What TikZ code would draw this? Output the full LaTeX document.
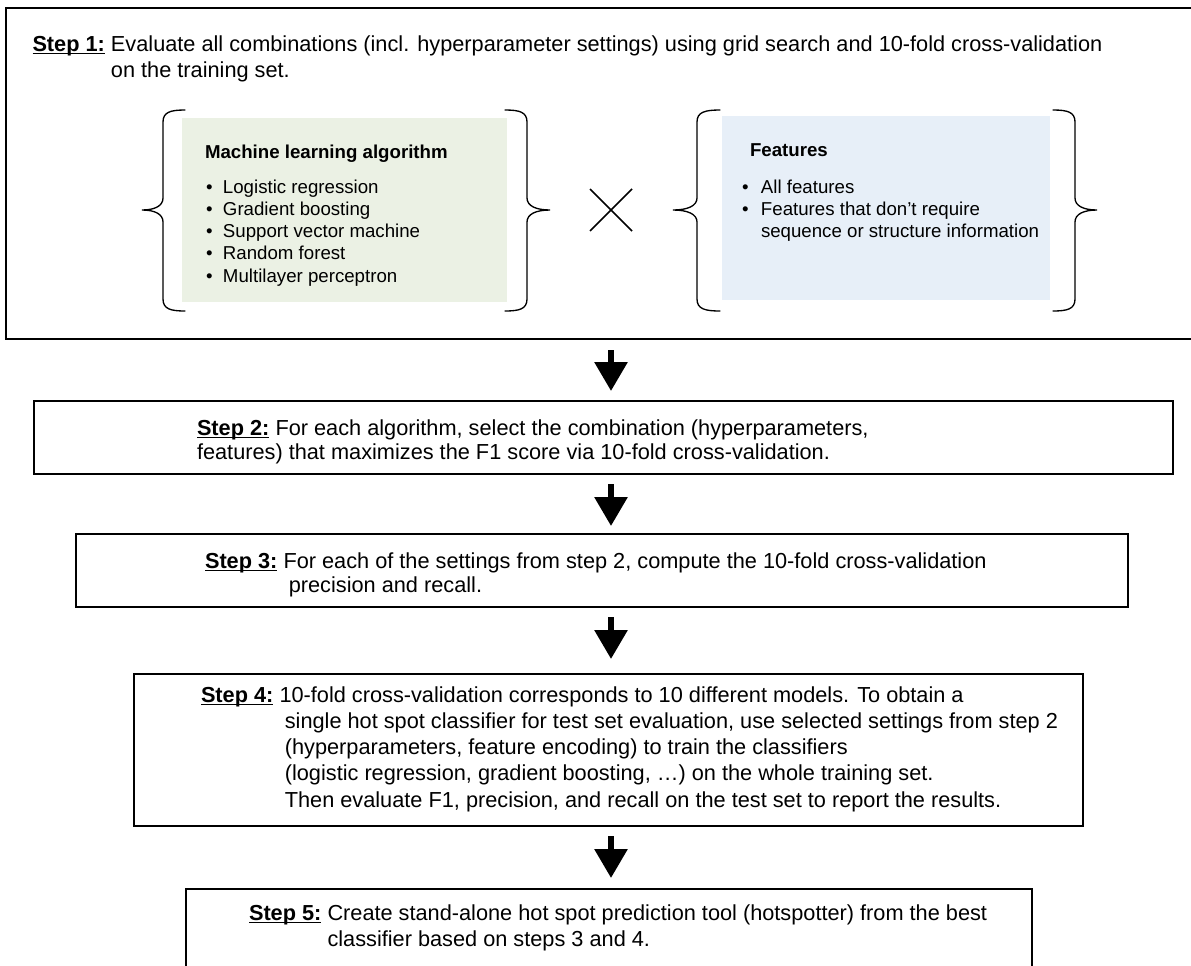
\documentclass[tikz,border=0pt]{standalone}
\usepackage{fontspec}
\setmainfont{Liberation Sans}
\usetikzlibrary{arrows.meta,calc}
\newcommand\stepfont{\fontsize{16.3pt}{19.7pt}\selectfont}
\newcommand\stepfontb{\fontsize{16.3pt}{18.4pt}\selectfont}
\newcommand\listfont{\fontsize{14pt}{16.7pt}\selectfont}
\newcommand\steplabel[1]{\setbox0\hbox{\textbf{#1}}\rlap{\rule[-2.6pt]{\wd0}{1.1pt}}\box0\relax}
\newcommand\mlb{\makebox[12.75pt][l]{\textbullet}}
\newcommand\ftb{\makebox[14.25pt][l]{\textbullet}}
\newcommand\mybrace[3]{%
  \draw[bracestyle] (#1,110) .. controls ({#2+0.35*(#1-#2)},110) and (#2,112) .. (#2,122)
    -- (#2,198) .. controls (#2,206) and ({#2+0.4*(#3-#2)},210) .. (#3,210)
    .. controls ({#2+0.4*(#3-#2)},210) and (#2,214) .. (#2,222)
    -- (#2,299) .. controls (#2,309) and ({#2+0.35*(#1-#2)},311) .. (#1,311);}
\definecolor{mlgreen}{RGB}{235,241,228}
\definecolor{ftblue}{RGB}{231,239,248}
\begin{document}
\begin{tikzpicture}[x=0.75pt,y=-0.75pt,
  stepbox/.style={draw=black, line width=1.6pt, inner sep=0pt, outer sep=0pt, anchor=north west},
  colbox/.style={inner sep=0pt, outer sep=0pt, anchor=north west, draw=none},
  steptext/.style={anchor=base west, inner sep=0pt, outer sep=0pt},
  listtext/.style={anchor=base west, inner sep=0pt, outer sep=0pt, font=\listfont},
  bracestyle/.style={line width=1pt, black, line cap=round},
  crossline/.style={line width=1.2pt, black},
  bigarrow/.style={line width=4.5pt, -{Triangle[width=24pt,length=21.75pt]}}
]
\useasboundingbox (0,0) rectangle (1191,965);
\fill[white] (0,0) rectangle (1191,965);

% boxes
\node[stepbox, minimum width=895.5pt, minimum height=248.25pt] (b1) at (6,8) {};
\node[stepbox, minimum width=854.25pt, minimum height=54.75pt] (b2) at (34,401) {};
\node[stepbox, minimum width=789pt, minimum height=54.75pt] (b3) at (76,534) {};
\node[stepbox, minimum width=711.75pt, minimum height=114pt] (b4) at (134,674) {};
\node[stepbox, minimum width=634.5pt, minimum height=83.25pt] (b5) at (186,889) {};

% step 1 text
\node[steptext, font=\stepfont] (t1) at (32.5,51) {\begin{tabular}[t]{@{}l@{ }l@{}}
\steplabel{Step 1:} & Evaluate all combinations (incl. hyperparameter settings) using grid search and 10-fold cross-validation\\
 & on the training set.
\end{tabular}};

% coloured panels
\node[colbox, fill=mlgreen, minimum width=243.75pt, minimum height=138pt] (ml) at (182,118) {};
\node[colbox, fill=ftblue, minimum width=246pt, minimum height=138pt] (ft) at (722,116) {};

\node[listtext] (mlh) at (205,158) {\textbf{Machine learning algorithm}};
\node[listtext] (mll) at (206,193) {\begin{tabular}[t]{@{}l@{}}
\mlb Logistic regression\\
\mlb Gradient boosting\\
\mlb Support vector machine\\
\mlb Random forest\\
\mlb Multilayer perceptron
\end{tabular}};

\node[listtext] (fth) at (750,156) {\textbf{Features}};
\node[listtext] (ftl) at (742,193) {\begin{tabular}[t]{@{}l@{}}
\ftb All features\\
\ftb Features that don’t require\\
\makebox[14.25pt][l]{}sequence or structure information
\end{tabular}};

% braces
\mybrace{185}{163}{142}
\mybrace{505}{527}{550}
\mybrace{720}{697}{673}
\mybrace{1053}{1075}{1097}

% cross
\draw[crossline] (590,189) -- (632,231);
\draw[crossline] (590,231) -- (632,189);

% step 2
\node[steptext, font=\stepfontb] (t2) at (197,435) {\begin{tabular}[t]{@{}l@{}}
\steplabel{Step 2:} For each algorithm, select the combination (hyperparameters,\\
features) that maximizes the F1 score via 10-fold cross-validation.
\end{tabular}};

% step 3
\node[steptext, font=\stepfontb] (t3) at (205,568) {\begin{tabular}[t]{@{}l@{ }l@{}}
\steplabel{Step 3:} & For each of the settings from step 2, compute the 10-fold cross-validation\\
 & \hspace{4pt}precision and recall.
\end{tabular}};

% step 4
\node[steptext, font=\stepfont] (t4) at (201,702) {\begin{tabular}[t]{@{}l@{ }l@{}}
\steplabel{Step 4:} & 10-fold cross-validation corresponds to 10 different models. To obtain a\\
 & \hspace{4pt}single hot spot classifier for test set evaluation, use selected settings from step 2\\
 & \hspace{4pt}(hyperparameters, feature encoding) to train the classifiers\\
 & \hspace{4pt}(logistic regression, gradient boosting, …) on the whole training set.\\
 & \hspace{4pt}Then evaluate F1, precision, and recall on the test set to report the results.
\end{tabular}};

% step 5
\node[steptext, font=\stepfont] (t5) at (249,920) {\begin{tabular}[t]{@{}l@{ }l@{}}
\steplabel{Step 5:} & Create stand-alone hot spot prediction tool (hotspotter) from the best\\
 & classifier based on steps 3 and 4.
\end{tabular}};

% arrows
\coordinate (ax) at (611,0);
\draw[bigarrow, shorten <=8.25pt, shorten >=7.5pt] (b1.south -| ax) -- (b2.north -| ax);
\draw[bigarrow, shorten <=7.5pt, shorten >=6pt] (b2.south -| ax) -- (b3.north -| ax);
\draw[bigarrow, shorten <=7.5pt, shorten >=11.25pt] (b3.south -| ax) -- (b4.north -| ax);
\draw[bigarrow, shorten <=7.5pt, shorten >=8.25pt] (b4.south -| ax) -- (b5.north -| ax);
\end{tikzpicture}
\end{document}
